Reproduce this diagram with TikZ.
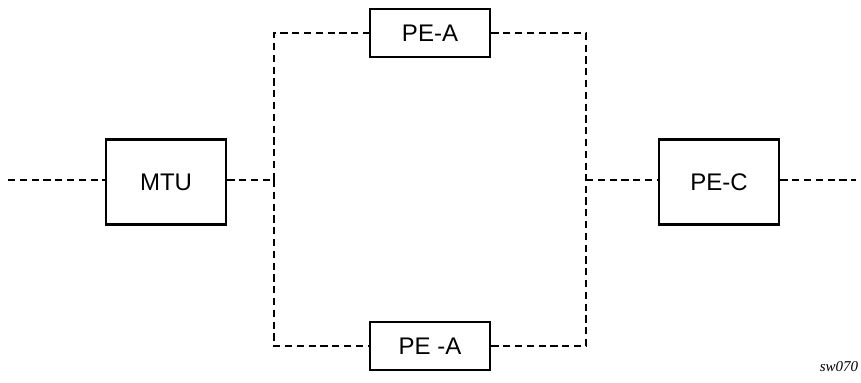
\documentclass[tikz,border=0pt]{standalone}
\usepackage{fontspec}
\setmainfont{Liberation Sans}
\newfontfamily\tagfont{Liberation Serif}
\usepackage{tikz}
\usetikzlibrary{positioning}

\tikzset{
  unit/.style={draw, line width=1.4pt, fill=white, inner sep=0pt,
    font=\fontsize{12}{14}\selectfont},
  bigunit/.style={unit, minimum width=60pt, minimum height=42.5pt},
  smallunit/.style={unit, minimum width=60pt, minimum height=24pt},
  link/.style={line width=1.2pt, dash pattern=on 3.6pt off 2.3pt}
}

\begin{document}
\begin{tikzpicture}[x=0.5pt, y=-0.5pt]
  % frame of the picture
  \useasboundingbox (0,0) rectangle (861,383);

  % boxes
  \node[bigunit] (mtu) at (166,182) {MTU};
  \node[bigunit] (pec) at (719,182) {PE-C};
  \node[smallunit] (peaup) at (430,33) {PE-A};
  \node[smallunit] (peadown) at (430,346) {PE -A};

  % ends and branch points
  \coordinate (lin) at (8,180);
  \coordinate (rout) at (856,180);
  \coordinate (jleft) at (274,180);
  \coordinate (jright) at (586,180);

  % dashed links
  \draw[link] (lin) -- (mtu.west |- lin);
  \draw[link] (mtu.east |- jleft) -- (jleft);
  \draw[link] (jleft) |- (peaup.west);
  \draw[link] (jleft) |- (peadown.west);
  \draw[link] (peaup.east) -| (jright);
  \draw[link] (peadown.east) -| (jright);
  \draw[link] (jright) -- (pec.west |- jright);
  \draw[link] (pec.east |- rout) -- (rout);

  % figure tag
  \node[font=\tagfont\itshape\fontsize{7.5}{9}\selectfont] (tag) at (839,367) {sw070};
\end{tikzpicture}
\end{document}
